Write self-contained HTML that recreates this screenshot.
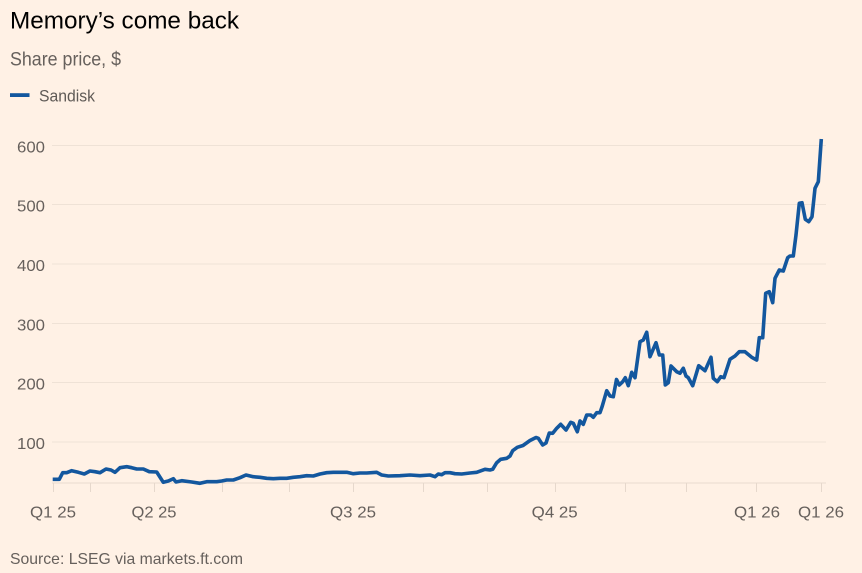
<!DOCTYPE html>
<html><head><meta charset="utf-8"><style>
html,body{margin:0;padding:0;background:#fff1e5;}
svg{display:block;}
text{font-family:"Liberation Sans",sans-serif;}
</style></head><body>
<svg width="862" height="573" viewBox="0 0 862 573" xmlns="http://www.w3.org/2000/svg">
<rect width="862" height="573" fill="#fff1e5"/>
<text x="10" y="28.5" font-size="24" fill="#000" textLength="229" lengthAdjust="spacingAndGlyphs">Memory’s come back</text>
<text x="10" y="65.7" font-size="19" fill="#66605c" textLength="111" lengthAdjust="spacingAndGlyphs">Share price, $</text>
<rect x="10" y="93.2" width="19.5" height="3.8" fill="#13579e"/>
<text x="39" y="101.7" font-size="17" fill="#5f5a56" textLength="56" lengthAdjust="spacingAndGlyphs">Sandisk</text>
<g stroke="#efe2d6" stroke-width="1">
<line x1="52" x2="826" y1="145.5" y2="145.5"/>
<line x1="52" x2="826" y1="204.5" y2="204.5"/>
<line x1="52" x2="826" y1="264" y2="264"/>
<line x1="52" x2="826" y1="323.5" y2="323.5"/>
<line x1="52" x2="826" y1="382.5" y2="382.5"/>
<line x1="52" x2="826" y1="442" y2="442"/>
<line x1="52" x2="826" y1="483" y2="483" stroke="#e9dcd0"/>
</g>
<g stroke="#e6d8cc" stroke-width="1">
<line x1="53.5" x2="53.5" y1="483" y2="492"/>
<line x1="90.5" x2="90.5" y1="483" y2="492"/>
<line x1="154.5" x2="154.5" y1="483" y2="492"/>
<line x1="222.5" x2="222.5" y1="483" y2="492"/>
<line x1="289.5" x2="289.5" y1="483" y2="492"/>
<line x1="353.5" x2="353.5" y1="483" y2="492"/>
<line x1="423.5" x2="423.5" y1="483" y2="492"/>
<line x1="487.5" x2="487.5" y1="483" y2="492"/>
<line x1="555.5" x2="555.5" y1="483" y2="492"/>
<line x1="625.5" x2="625.5" y1="483" y2="492"/>
<line x1="686.5" x2="686.5" y1="483" y2="492"/>
<line x1="756.5" x2="756.5" y1="483" y2="492"/>
<line x1="821.5" x2="821.5" y1="483" y2="492"/>
</g>
<g font-size="16" fill="#66605c" text-anchor="end">
<text x="45" y="152.3" textLength="28" lengthAdjust="spacingAndGlyphs">600</text>
<text x="45" y="211.5" textLength="28" lengthAdjust="spacingAndGlyphs">500</text>
<text x="45" y="271" textLength="28" lengthAdjust="spacingAndGlyphs">400</text>
<text x="45" y="330.5" textLength="28" lengthAdjust="spacingAndGlyphs">300</text>
<text x="45" y="389.5" textLength="28" lengthAdjust="spacingAndGlyphs">200</text>
<text x="45" y="449" textLength="28" lengthAdjust="spacingAndGlyphs">100</text>
</g>
<g font-size="16" fill="#66605c" text-anchor="middle">
<text x="53" y="517.3" textLength="46" lengthAdjust="spacingAndGlyphs">Q1 25</text>
<text x="154" y="517.3" textLength="45" lengthAdjust="spacingAndGlyphs">Q2 25</text>
<text x="353" y="517.3" textLength="46" lengthAdjust="spacingAndGlyphs">Q3 25</text>
<text x="554.7" y="517.3" textLength="46" lengthAdjust="spacingAndGlyphs">Q4 25</text>
<text x="757" y="517.3" textLength="46" lengthAdjust="spacingAndGlyphs">Q1 26</text>
<text x="821" y="517.3" textLength="46" lengthAdjust="spacingAndGlyphs">Q1 26</text>
</g>
<polyline fill="none" stroke="#13579e" stroke-width="3.6" stroke-linejoin="round" stroke-linecap="butt" points="
52.7,479.3 59.3,479.3 62.7,472.7 66.7,472.7 71.7,470.7 78.3,472.3 84.3,474 90,471 95,471.7 100,472.7 106,469 111,470 115,472.3 120,467.7 126.7,466.7 131.7,467.7 136.7,469 143.3,469 149.3,471.7 156.7,472 163.3,482.3 168.3,481 173.3,478.7 176,482 181.7,480.7 191.7,482 200,483.3 206.7,481.7 216.7,481.7 221.7,481 226.7,480 233.3,480 240,477.7 246,475 253.3,476.7 260,477.3 266.7,478.3 273.3,478.7 280,478.3 286.7,478.3 293.3,477.3 300,476.7 306.7,475.7 313.3,476 320,474 326.7,472.7 333.3,472.3 346.7,472.3 353.3,473.7 360,473 366.7,473 376.7,472.3 381.7,475 388.3,476 400,475.7 410,475 420,475.7 430,475 435,476.7 438.3,474 441.7,474.7 445,472.7 450,472.7 455,473.7 461.7,474 470,473 476.7,472.3 485,469.3 490,470 492.7,469.3 496.7,462.7 500.7,459.3 506.7,458.3 510,456 512.7,450.7 517.3,447.3 523,445.5 530,440.5 536,437.5 538.3,438.3 542.7,445 546,443 549.3,433 552.7,433.3 556.7,428.3 560.7,424.3 566,430 570.7,422.3 573.3,423.3 577.3,431.7 580,421 583.3,424.3 586.7,415 590.7,415 593.3,417.3 596.7,412.7 600,412.7 602.3,406 606.7,390.7 610,396 613.3,396.7 616.5,379.5 619.3,385 622.7,381.7 625.3,377.7 628.3,385.7 631.7,372.3 635,377.7 640,341.7 643.3,340 646.7,332.3 650,356.7 656,342.7 659.3,355 662.7,355 665.3,385 668.3,382.7 671,366 676.7,371.7 680,373.3 683.3,368.3 686,376 688.3,377.7 692.7,385.7 698.7,365.7 705,370.7 711,357.3 713.3,378.3 717.3,381.7 720.7,376.7 724,377.7 730,359.3 735,356 739.3,351.7 745,351.7 751.7,357.3 756.7,360 759.3,337.7 762.7,337.7 765.7,293.3 769.3,291.7 772.7,302.7 775,278.3 779.3,270 783.3,271 787.7,257.7 790,256 793.3,256 796,235 799.3,203.3 802,202.7 805.3,219.3 808.7,221.7 812,216.7 815,188.3 818.3,181.7 821.3,139"/>
<text x="10" y="564" font-size="16" fill="#66605c" textLength="233" lengthAdjust="spacingAndGlyphs">Source: LSEG via markets.ft.com</text>
</svg>
</body></html>
